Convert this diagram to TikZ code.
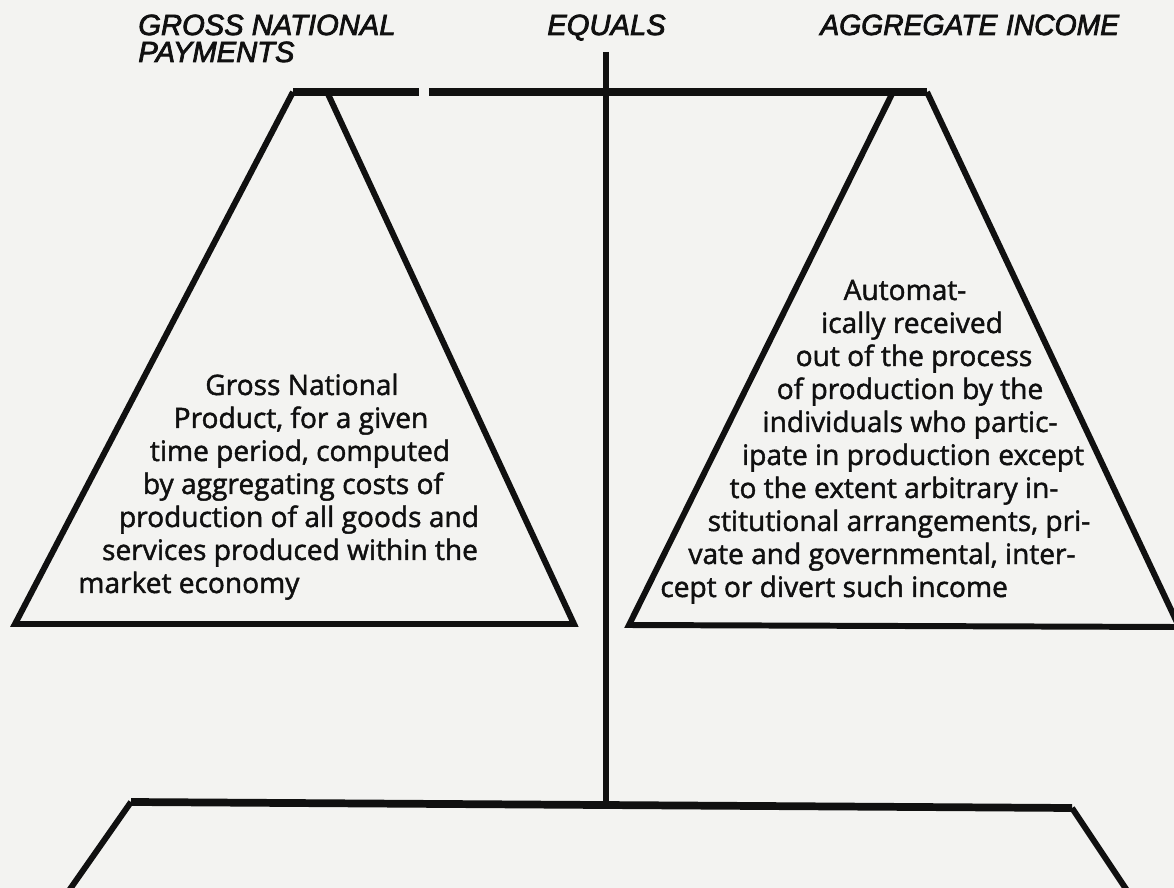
\documentclass[tikz,border=0pt]{standalone}
\usepackage{fontspec}
\setmainfont[FakeBold=1.6]{Open Sans}
\newfontfamily\headfont[FakeBold=2.6]{Liberation Sans}
\usetikzlibrary{calc}
\definecolor{paper}{HTML}{F3F3F1}
\definecolor{ink}{HTML}{101010}

\begin{document}
\begin{tikzpicture}[x=0.02cm, y=-0.02cm, line join=miter,
  every node/.style={inner sep=0pt, text=ink},
  head/.style={font=\headfont\itshape\fontsize{16.6}{15}\selectfont, anchor=base west},
  body/.style={font=\fontsize{16}{19}\selectfont, anchor=base},
  pan/.style={draw=ink, line width=3.4pt},
  beam/.style={draw=ink, line width=4.4pt}]
\fill[paper] (0,0) rectangle (1174,888);
\useasboundingbox (0,0) rectangle (1174,888);

% headings
\node[head] (pay1) at (138,35) {GROSS NATIONAL};
\node[head] (pay2) at (138,62) {PAYMENTS};
\node[head] (equals) at (547,35) {EQUALS};
\node[head, xscale=.97] (income) at (820,35) {AGGREGATE\hspace{.3em}INCOME};

% corners of the balance
\coordinate (post-top) at (606,52);
\coordinate (post-foot) at (606,804);
\coordinate (bar-l) at (293,92);
\coordinate (bar-r) at (927,92);
\coordinate (gnp-bl) at (15,624);
\coordinate (gnp-br) at (574,624);
\coordinate (gnp-in) at (328,94);
\coordinate (inc-bl) at (629,625);
\coordinate (inc-br) at (1174,627);
\coordinate (inc-in) at (892,94);
\coordinate (stand-l) at (131,802);
\coordinate (stand-r) at (1072,808);

% top beam, post and stand
\draw[beam] (bar-l) -- (419,92);
\draw[beam] (429,92) -- (bar-r);
\draw[pan] (post-top) -- (post-foot);
\draw[beam] (stand-l) -- (stand-r);
\draw[pan] (stand-l) -- (68,892);
\draw[pan] (stand-r) -- (1128,892);

% the two pans
\draw[pan] (bar-l) -- (gnp-bl) -- (gnp-br) -- (gnp-in);
\draw[pan] (inc-in) -- (inc-bl) -- (inc-br);
\draw[pan] (bar-r) -- (1190,650);

% left pan text
\foreach \i/\cx/\by/\txt in {1/302/395/{Gross National},
  2/301/428/{Product, for a given},
  3/300/461/{time period, computed},
  4/293/494/{by aggregating costs of},
  5/299/527/{production of all goods and},
  6/290/560/{services produced within the}}
  \node[body] (gnp-\i) at (\cx,\by) {\txt};
\node[body, anchor=base west] (gnp-7) at (78,593) {market economy};

% right pan text
\foreach \i/\cx/\by/\txt in {1/905/300/{Automat-},
  2/912/333/{ically received},
  3/914/366/{out of the process},
  4/910/399/{of production by the},
  5/910/432/{individuals who partic-},
  6/913/465/{ipate in production except},
  7/894/498/{to the extent arbitrary in-},
  8/899/531/{stitutional arrangements, pri-},
  9/882/564/{vate and governmental, inter-}}
  \node[body] (inc-\i) at (\cx,\by) {\txt};
\node[body, anchor=base west] (inc-10) at (660,597) {cept or divert such income};
\end{tikzpicture}
\end{document}
